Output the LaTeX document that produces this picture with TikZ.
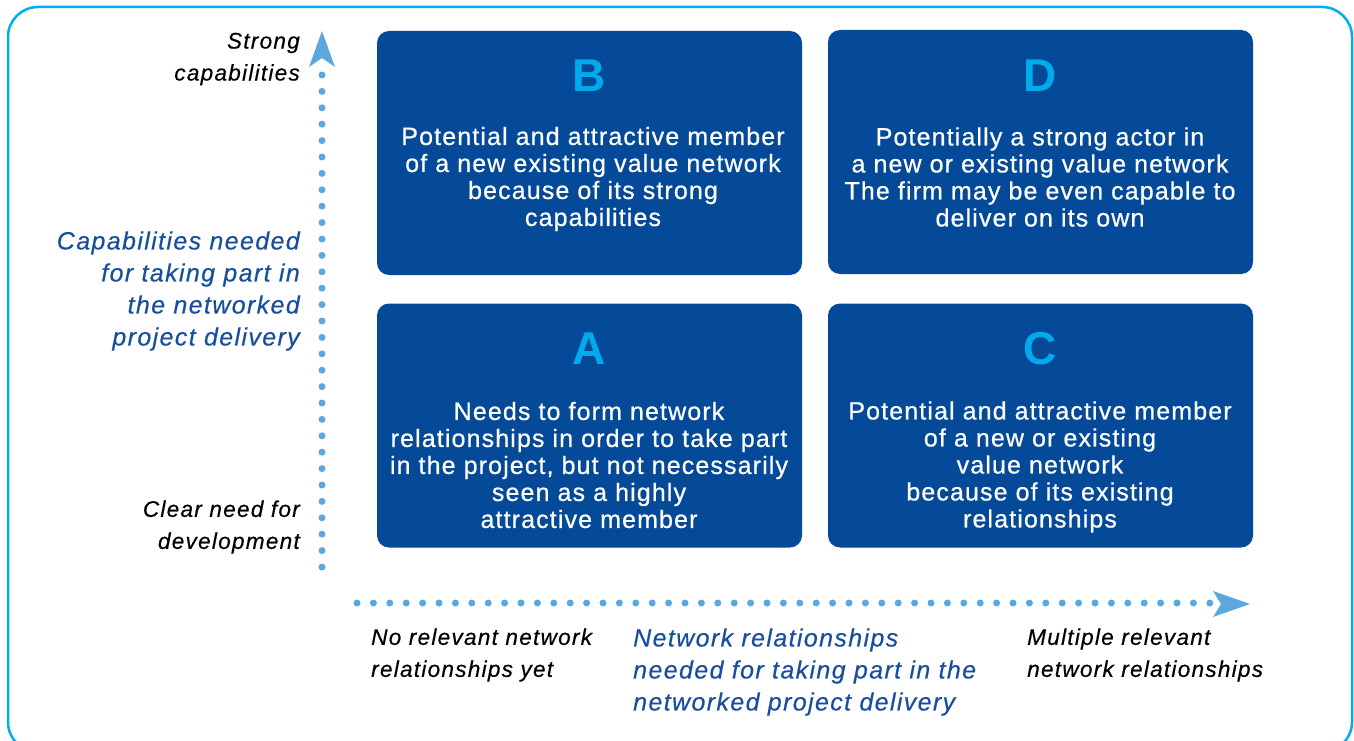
\documentclass[tikz,border=0pt]{standalone}
\usepackage{fontspec}
\setmainfont{Liberation Sans}
\newfontfamily\bodyfont[LetterSpace=4.5,FakeBold=0.6]{Liberation Sans}
\newfontfamily\labfont[LetterSpace=5.5,FakeBold=0.4]{Liberation Sans}
\usetikzlibrary{positioning}
\definecolor{boxblue}{RGB}{4,74,152}
\definecolor{lettercyan}{RGB}{0,170,236}
\definecolor{framecyan}{RGB}{0,174,239}
\definecolor{axisblue}{RGB}{92,167,222}
\definecolor{textblue}{RGB}{24,78,158}
\begin{document}
\begin{tikzpicture}[x=1pt,y=-1pt,
  quad/.style={draw=none,fill=boxblue,rounded corners=12pt,minimum width=425pt,minimum height=244pt,inner sep=0pt},
  letter/.style={text=lettercyan,font=\fontsize{46}{46}\selectfont\bfseries},
  body/.style={text=white,align=center,font=\bodyfont\fontsize{25}{27}\selectfont,inner sep=0pt},
  axlabel/.style={font=\labfont\fontsize{22.6}{32}\selectfont\itshape,inner sep=0pt},
  axtitle/.style={text=textblue,font=\labfont\fontsize{25}{32}\selectfont\itshape,inner sep=0pt},
  dots/.style={draw=axisblue,line width=7pt,line cap=round,dash pattern=on 0pt off 16.4pt},
  tip/.style={fill=axisblue,draw=none}
]
\useasboundingbox (0,0) rectangle (1354,741);
\draw[framecyan,line width=2.5pt,rounded corners=30pt] (8,7) rectangle (1352,752);

% quadrants
\node[quad] (B) at (589.5,153) {};
\node[quad] (D) at (1040.5,152) {};
\node[quad] (A) at (589.5,425.5) {};
\node[quad] (C) at (1040.5,425.5) {};

\node[letter] (lB) at (589,76) {B};
\node[letter] (lD) at (1040,76) {D};
\node[letter] (lA) at (589,349) {A};
\node[letter] (lC) at (1040,349) {C};

\node[body] (tB) at (593,179) {Potential and attractive member\\of a new existing value network\\because of its strong\\capabilities};
\node[body] (tD) at (1040,177) {Potentially a strong actor in\\a new or existing value network\\The firm may be even capable to\\deliver on its own};
\node[body] (tA) at (589,465) {Needs to form network\\relationships in order to take part\\in the project, but not necessarily\\seen as a highly\\attractive member};
\node[body] (tC) at (1040,467) {Potential and attractive member\\of a new or existing\\value network\\because of its existing\\relationships};

% axes
\coordinate (vbot) at (322,567);
\coordinate (vtop) at (322,75);
\coordinate (hleft) at (357,603);
\coordinate (hright) at (1210,603);
\draw[dots] (vbot) -- (vtop);
\draw[dots] (hleft) -- (hright);
\fill[tip] (322,31) -- (335,67) -- (322,58) -- (309,67) -- cycle;
\fill[tip] (1250,604) -- (1213,591) -- (1221,604) -- (1213,617) -- cycle;

% axis labels
\node[axlabel,anchor=east,align=right] (strong) at (300,59) {Strong\\capabilities};
\node[axtitle,anchor=east,align=right] (ytitle) at (300,291) {Capabilities needed\\for taking part in\\the networked\\project delivery};
\node[axlabel,anchor=east,align=right] (clear) at (300,527) {Clear need for\\development};
\node[axlabel,anchor=west,align=left] (norel) at (371,655) {No relevant network\\relationships yet};
\node[axtitle,anchor=west,align=left] (xtitle) at (633,672) {Network relationships\\needed for taking part in the\\networked project delivery};
\node[axlabel,anchor=west,align=left] (multi) at (1027,655) {Multiple relevant\\network relationships};
\end{tikzpicture}
\end{document}
